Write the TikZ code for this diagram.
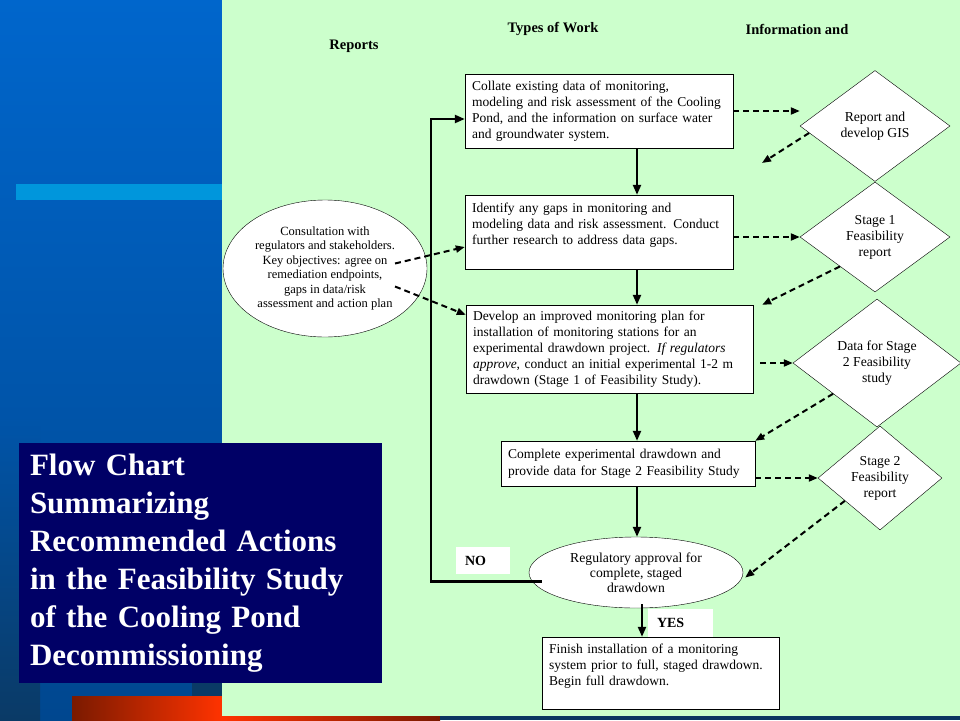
\documentclass[tikz,border=0pt]{standalone}
\usepackage{fontspec}
\setmainfont{Liberation Serif}
\usetikzlibrary{shapes.geometric,arrows.meta,calc}

\definecolor{panelblue}{HTML}{0066CC}
\definecolor{paneldark}{HTML}{00478F}
\definecolor{coldnavy}{HTML}{0A3A66}
\definecolor{stripeblue}{HTML}{0096DC}
\definecolor{pagegreen}{HTML}{CCFFCC}
\definecolor{titlenavy}{HTML}{000066}
\definecolor{rustred}{HTML}{7A1A00}
\definecolor{flameorange}{HTML}{FF3300}
\definecolor{deepnavy}{HTML}{0A3560}

\begin{document}
\begin{tikzpicture}[x=1pt,y=-1pt,
    workbox/.style={draw,fill=white,align=left,inner xsep=7pt,inner ysep=0pt,
      font=\fontsize{13.5}{16}\selectfont},
    reportdiamond/.style={draw,fill=white,shape=diamond,inner sep=0pt,align=center,
      font=\fontsize{13.7}{16}\selectfont},
    talkellipse/.style={draw,fill=white,shape=ellipse,inner sep=0pt,align=center},
    answer/.style={fill=white,align=left,inner xsep=9pt,inner ysep=0pt,
      font=\bfseries\fontsize{14}{16}\selectfont},
    heading/.style={font=\bfseries\fontsize{14.5}{16}\selectfont},
    flowline/.style={line width=2.2pt,-{Triangle[length=10pt,width=8pt]}},
    flowdash/.style={line width=2pt,dash pattern=on 6pt off 4pt,
      -{Triangle[length=9pt,width=7pt]}}]
    \useasboundingbox (0,0) rectangle (960,720);

    % left panel
    \shade[top color=panelblue,bottom color=paneldark] (0,0) rectangle (222,720);
    \shade[top color=paneldark!58!panelblue,bottom color=coldnavy] (0,420) rectangle (40,720);
    \fill[stripeblue] (16,184) rectangle (222,200);
    \fill[coldnavy] (192,683) rectangle (222,696);
    \shade[left color=rustred,right color=flameorange] (72,696) rectangle (222,720);

    % slide area
    \fill[pagegreen] (222,0) rectangle (960,716);
    \shade[left color=flameorange,right color=rustred] (222,716) rectangle (440,720);
    \fill[deepnavy] (440,716) rectangle (960,720);

    % title
    \node[fill=titlenavy,text=white,align=left,text width=341pt,inner xsep=11pt,
      minimum height=240pt,font=\bfseries\fontsize{31}{38}\selectfont]
      (title) at (200.5,563) {Flow Chart\\Summarizing\\Recommended Actions\\
      in the Feasibility Study\\of the Cooling Pond\\Decommissioning};

    % column headings
    \node[heading] (reports) at (354,46) {Reports};
    \node[heading] (types) at (553,29) {Types of Work};
    \node[heading] (info) at (797,29) {Information and};

    % types of work
    \node[workbox,text width=254pt,minimum height=74pt] (box1) at (599,111)
      {Collate existing data of monitoring,\\modeling and risk assessment of the Cooling\\
      Pond, and the information on surface water\\and groundwater system.};
    \node[workbox,text width=254pt,minimum height=74pt] (box2) at (599,232)
      {Identify any gaps in monitoring and\\modeling data and risk assessment. Conduct\\
      further research to address data gaps.\\ \mbox{}};
    \node[workbox,text width=273pt,minimum height=88pt] (box3) at (609.5,349)
      {Develop an improved monitoring plan for\\installation of monitoring stations for an\\
      experimental drawdown project. \textit{If regulators}\\
      \textit{approve}, conduct an initial experimental 1-2 m\\
      drawdown (Stage 1 of Feasibility Study).};
    \node[workbox,text width=240pt,minimum height=45pt,
      font=\fontsize{13.5}{17}\selectfont] (box4) at (628,463.5)
      {Complete experimental drawdown and\\provide data for Stage 2 Feasibility Study};
    \node[workbox,text width=223pt,minimum height=72pt] (box5) at (660.5,673)
      {Finish installation of a monitoring\\system prior to full, staged drawdown.\\
      Begin full drawdown.\\ \mbox{}};

    % consultation and approval
    \node[talkellipse,minimum width=204pt,minimum height=137pt,
      font=\fontsize{12.5}{14.5}\selectfont] (consult) at (325,268.5)
      {Consultation with\\regulators and stakeholders.\\Key objectives: agree on\\
      remediation endpoints,\\gaps in data/risk\\assessment and action plan};
    \node[talkellipse,minimum width=214pt,minimum height=71pt,
      font=\fontsize{13.7}{15}\selectfont] (reg) at (636,572.5)
      {Regulatory approval for\\complete, staged\\drawdown};
    \node[answer,text width=36pt,minimum height=27pt] (no) at (483,560.5) {NO};
    \node[answer,text width=47pt,minimum height=28pt] (yes) at (680.5,623) {YES};

    % information and reports
    \node[reportdiamond,minimum width=150pt,minimum height=111pt,aspect=1.35]
      (gis) at (875,126) {Report and\\develop GIS};
    \node[reportdiamond,minimum width=150pt,minimum height=110pt,aspect=1.36]
      (stage1) at (875,237) {Stage 1\\Feasibility\\report};
    \node[reportdiamond,minimum width=168pt,minimum height=128pt,aspect=1.31]
      (data) at (877,363) {Data for Stage\\2 Feasibility\\study};
    \node[reportdiamond,minimum width=124pt,minimum height=104pt,aspect=1.19]
      (stage2) at (880,478) {Stage 2\\Feasibility\\report};

    \coordinate (spine) at (637,0);
    \coordinate (yescol) at (642,0);
    \coordinate (loop) at (431,119);
    \coordinate (gisback) at (762,163);

    % main flow
    \draw[flowline] (box1.south -| spine) -- (box2.north -| spine);
    \draw[flowline] (box2.south -| spine) -- (box3.north -| spine);
    \draw[flowline] (box3.south -| spine) -- (box4.north -| spine);
    \draw[flowline] (box4.south -| spine) -- (reg.north -| spine);
    \draw[flowline] ($(reg.south -| yescol)+(0,-4)$) -- (box5.north -| yescol);
    \draw[flowline] ($(reg.west)+(13,9)$) -| (loop) -- ($(box1.west)+(0,8)$);

    % reports
    \draw[flowdash] (box1.east) -- (box1.east -| gis.west);
    \draw[flowdash] (gis.186) -- (gisback);
    \draw[flowdash] (box2.east |- stage1.west) -- (stage1.west);
    \draw[flowdash] (stage1.220) -- ($(box3.north east)+(9,0)$);
    \draw[flowdash] ($(box3.east |- data.west)+(7,0)$) -- (data.west);
    \draw[flowdash] (data.215) -- (box4.north east);
    \draw[flowdash] (box4.east |- stage2.west) -- (stage2.west);
    \draw[flowdash] (stage2.213) -- ($(reg.east)+(2,5)$);
    \draw[flowdash] ($(consult.center)+(70,-5)$) -- ($(box2.west)+(0,15)$);
    \draw[flowdash] ($(consult.center)+(70,18)$) -- ($(box3.north west)+(0,10)$);
\end{tikzpicture}
\end{document}
